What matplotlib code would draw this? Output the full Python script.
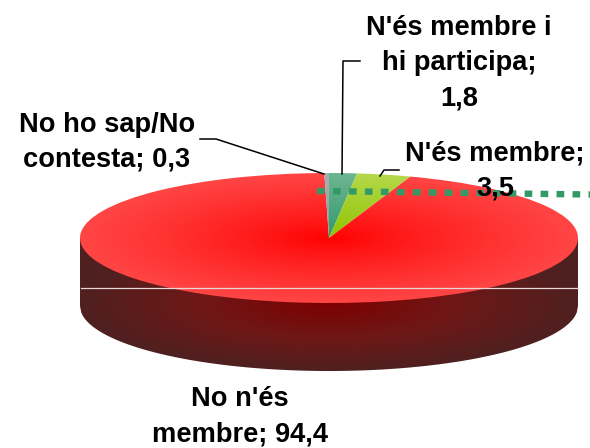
import numpy as np
import matplotlib
matplotlib.use("Agg")
import matplotlib.pyplot as plt
from matplotlib.colors import LinearSegmentedColormap

plt.rcParams["font.family"] = ["Liberation Sans", "DejaVu Sans"]

# data, clockwise from twelve o'clock
labels = ["N'és membre i\nhi participa;\n1,8", "N'és membre;\n3,5", "No n'és\nmembre; 94,4", "No ho sap/No\ncontesta; 0,3"]
values = [1.8, 3.5, 94.4, 0.3]

W, H = 590, 448
CX, CY = 329, 238  # ellipse centre in pixels
RX, RY = 249, 65
DEPTH = 68


def make_axes(fig, left, top, right, bottom, **kw):
    ax = fig.add_axes([left / W, 1 - bottom / H, (right - left) / W, (bottom - top) / H], **kw)
    ax.axis("off")
    return ax


def radial(ax, start, end, clip, power=1.0):
    # radial gradient inside the unit circle, clipped to one patch
    cmap = LinearSegmentedColormap.from_list("g", [start, end])
    x, y = np.meshgrid(np.linspace(-1, 1, 500), np.linspace(-1, 1, 300))
    r = np.clip(np.hypot(x, y), 0, 1) ** power
    im = ax.imshow(r, extent=(-1, 1, -1, 1), origin="lower", cmap=cmap, vmin=0, vmax=1,
                   aspect="auto", interpolation="bilinear")
    im.set_clip_path(clip)


fig = plt.figure(figsize=(W / 100, H / 100), dpi=100)

# side of the cylinder
ax_side = make_axes(fig, 0, 0, W, H)
ax_side.set_xlim(0, W)
ax_side.set_ylim(H, 0)
xs = np.linspace(CX - RX, CX + RX, 400)
bottom_edge = CY + DEPTH + RY * np.sqrt(1 - ((xs - CX) / RX) ** 2)
body = ax_side.fill_between(xs, CY, bottom_edge, color="none", lw=0)
cmap_side = LinearSegmentedColormap.from_list("side", ["#7d0000", "#6f1716", "#4f2020"])
gx, gy = np.meshgrid(np.linspace(0, W, 590), np.linspace(0, H, 448))
gr = np.clip(np.hypot((gx - CX) / RX, (gy - (CY + 65)) / DEPTH), 0, 1)
im_side = ax_side.imshow(gr, extent=(0, W, H, 0), cmap=cmap_side, vmin=0, vmax=1, aspect="auto")
im_side.set_clip_path(body.get_paths()[0], transform=ax_side.transData)
ax_side.set_xlim(0, W)
ax_side.set_ylim(H, 0)

# top face
ax_top = make_axes(fig, CX - RX, CY - RY, CX + RX, CY + RY)
wedges, _ = ax_top.pie(values, startangle=90, counterclock=False, radius=1, frame=True,
                       wedgeprops={"lw": 0})
ax_top.set_aspect("auto")
ax_top.set_xlim(-1, 1)
ax_top.set_ylim(-1, 1)
ax_top.axis("off")
for w in wedges:
    w.set_facecolor("none")
radial(ax_top, "#2f9a6c", "#6fb592", wedges[0])
radial(ax_top, "#8fc400", "#b4d84a", wedges[1])
radial(ax_top, "#ff0000", "#ff4545", wedges[2], power=0.8)
radial(ax_top, "#8f9a9a", "#a9b0b4", wedges[3])
ax_top.set_xlim(-1, 1)
ax_top.set_ylim(-1, 1)

# overlay in pixels: stray lines, leaders and labels
ax = make_axes(fig, 0, 0, W, H)
ax.patch.set_alpha(0)
ax.set_xlim(0, W)
ax.set_ylim(H, 0)
ax.plot([81, 578], [288, 288], color="#e6d6d6", lw=0.9)
ax.plot([317, 590], [191, 194.5], color="#339966", lw=4.6, ls=(0, (1.2, 1.3)))

ax.plot([200, 216, 324], [139, 139, 174], color="black", lw=1.1)
ax.plot([342, 343, 360], [174, 61, 61], color="black", lw=1.1)
ax.plot([380, 384, 399], [176, 170, 170], color="black", lw=1.1)

text_style = dict(ha="center", va="center", fontsize=19.6, fontweight="bold", color="black", linespacing=1.45)
ax.text(459, 63, labels[0], **text_style)
ax.text(495, 171, labels[1], **text_style)
ax.text(240, 417, labels[2], **text_style)
ax.text(107, 142, labels[3], **text_style)

fig.savefig("out.png", dpi=100)
